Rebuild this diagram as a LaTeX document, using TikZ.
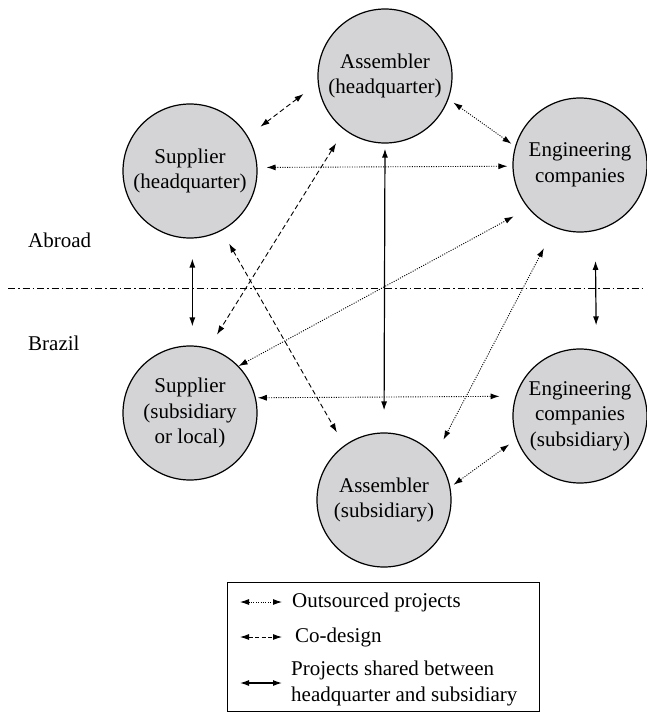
\documentclass[tikz,border=0pt]{standalone}
\usepackage{fontspec}
\setmainfont{Liberation Serif}
\newfontfamily\timesfam{Liberation Serif}
\usetikzlibrary{arrows.meta}
\definecolor{circfill}{RGB}{212,212,214}
\begin{document}
\begin{tikzpicture}[x=1pt,y=-1pt,
  txt/.style={font=\timesfam\fontsize{21}{25.5}\selectfont},
  actor/.style={circle, draw, line width=1.2pt, fill=circfill, minimum size=134pt,
    inner sep=0pt, align=center, txt},
  lbl/.style={txt, inner sep=0pt, anchor=west, align=left},
  tip/.style={{Latex[length=9pt,width=6pt]}-{Latex[length=9pt,width=6pt]}},
  outs/.style={tip, line width=0.9pt, dash pattern=on 1pt off 1.4pt},
  codes/.style={tip, line width=0.9pt, dash pattern=on 5pt off 3pt},
  shared/.style={tip, line width=1.2pt},
  border/.style={line width=0.9pt, dash pattern=on 7pt off 3pt on 1.5pt off 3pt}]
\useasboundingbox (0,0) rectangle (646,712);

% actors
\node[actor] (ahq)  at (385,76)  {Assembler\\(headquarter)};
\node[actor] (shq)  at (190,171) {Supplier\\(headquarter)};
\node[actor] (eng)  at (580,165) {Engineering\\companies};
\node[actor] (ssub) at (190,413) {Supplier\\(subsidiary\\or local)};
\node[actor] (esub) at (580,416) {Engineering\\companies\\(subsidiary)};
\node[actor] (asub) at (384,500) {Assembler\\(subsidiary)};

% border
\coordinate (bl) at (8,288);
\coordinate (br) at (646,288);
\draw[border] (bl) -- (br);
\node[lbl] (abroad) at (28,240) {Abroad};
\node[lbl] (brazil) at (28,343) {Brazil};

% connectors
\draw[codes, shorten <=15.7pt, shorten >=18pt] (shq.31) -- (ahq.186);
\draw[outs, shorten <=9pt, shorten >=5pt] (shq.3.4) -- (eng.181.7);
\draw[outs, shorten <=6pt, shorten >=4.4pt] (ahq.340.4) -- (eng.164);
\draw[shared, shorten <=5pt, shorten >=22pt] (ahq.south) -- (asub.north);
\draw[shared, shorten <=20pt, shorten >=19pt] (shq.272) -- (ssub.88);
\draw[shared, shorten <=30pt, shorten >=25pt] (eng.283.8) -- (esub.76.2);
\draw[outs, shorten >=16.7pt] (ssub.44.4) -- (eng.220);
\draw[codes, shorten <=15.5pt, shorten >=15.8pt] (ahq.233.6) -- (ssub.74.8);
\draw[codes, shorten <=14.9pt, shorten >=14.9pt] (shq.298.2) -- (asub.126.3);
\draw[outs, shorten <=1.9pt, shorten >=15.8pt] (ssub.13.8) -- (esub.163.5);
\draw[outs, shorten <=23.2pt, shorten >=18.1pt] (eng.248.9) -- (asub.41.1);
\draw[outs, shorten <=9pt, shorten >=3.9pt] (esub.200.8) -- (asub.11);

% legend
\node[draw, line width=0.9pt, minimum width=312pt, minimum height=129pt, inner sep=0pt]
  (legend) at (383,646.5) {};
\coordinate (l1a) at (240,602); \coordinate (l1b) at (282,602);
\coordinate (l2a) at (240,637); \coordinate (l2b) at (282,637);
\coordinate (l3a) at (240,683); \coordinate (l3b) at (282,683);
\draw[outs] (l1a) -- (l1b);
\draw[codes, dash pattern=on 4pt off 2.5pt] (l2a) -- (l2b);
\draw[shared] (l3a) -- (l3b);
\node[lbl] (t1) at (292,602) {Outsourced projects};
\node[lbl] (t2) at (295,637) {Co-design};
\node[lbl] (t3) at (291,683.5) {Projects shared between\\headquarter and subsidiary};
\end{tikzpicture}
\end{document}
